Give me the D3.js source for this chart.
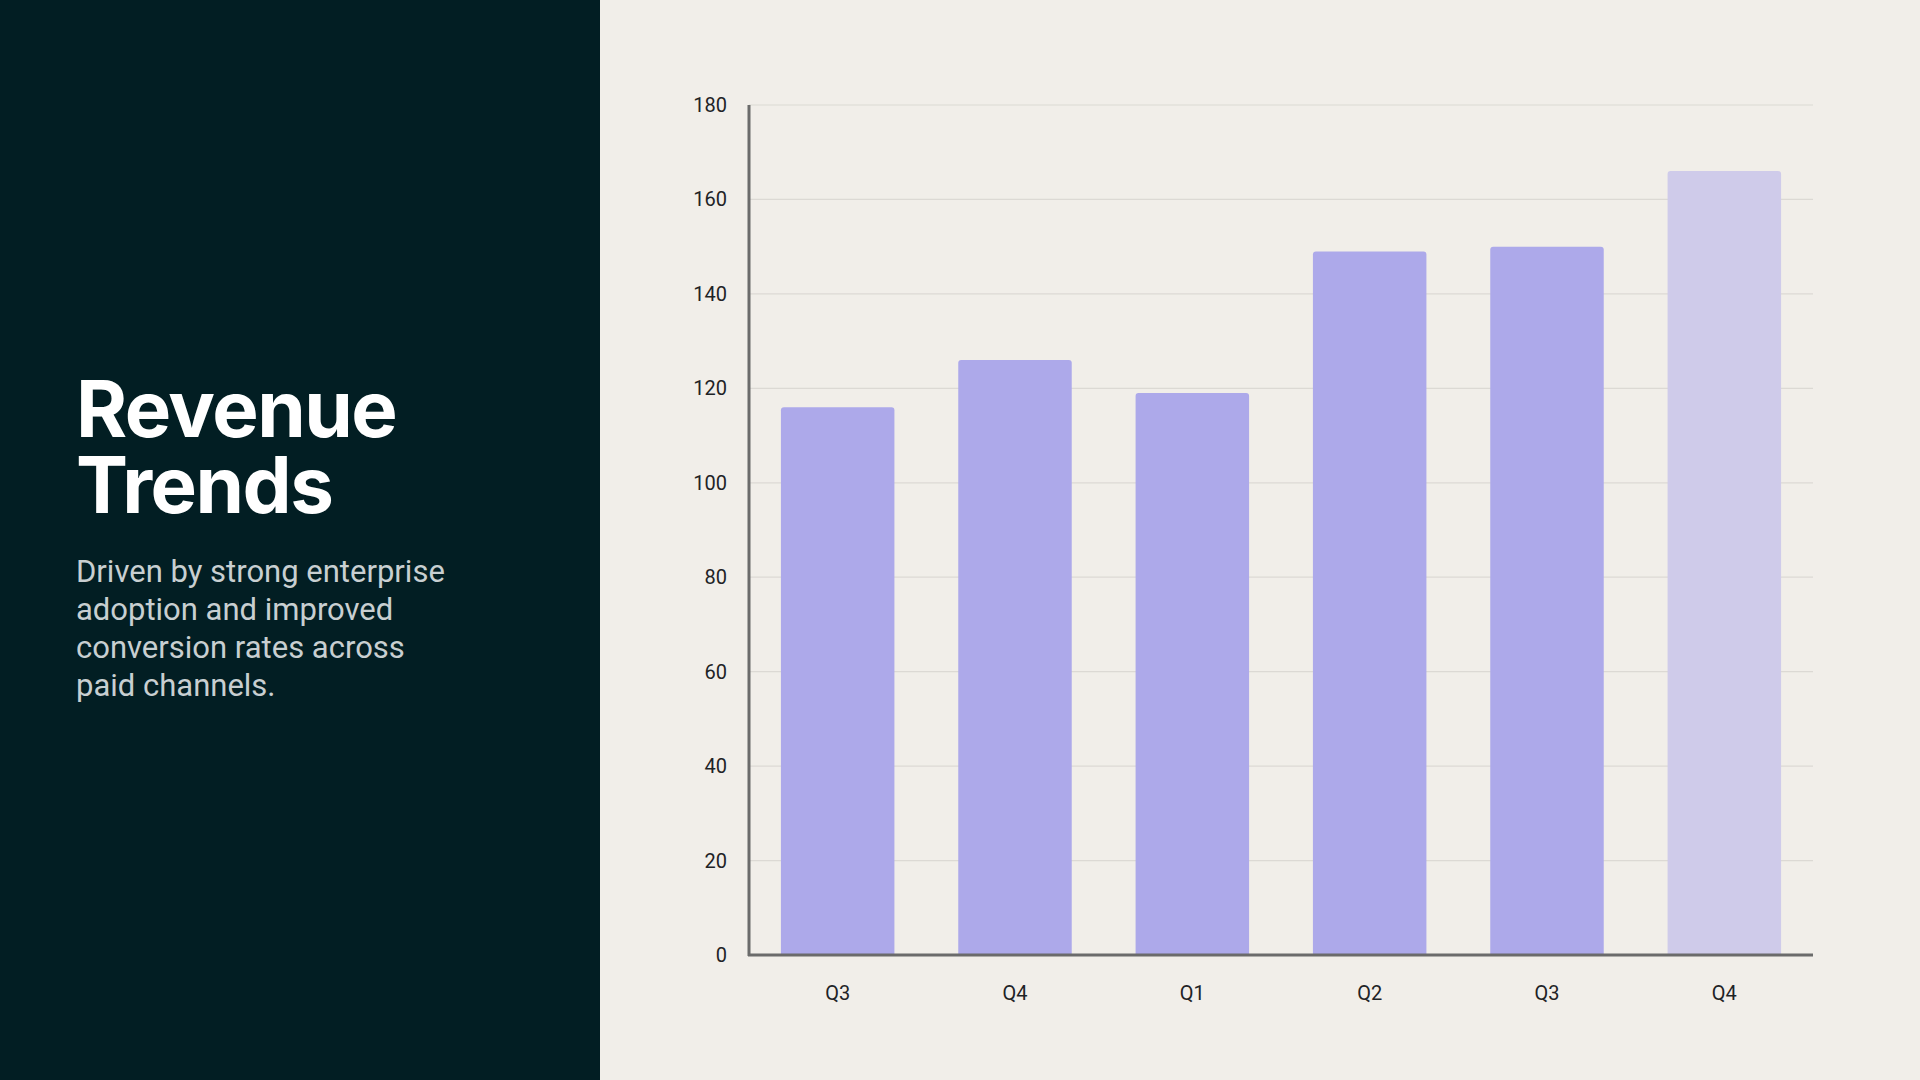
<!DOCTYPE html>
<html>
<head>
<meta charset="utf-8">
<script src="https://cdn.jsdelivr.net/npm/d3@7"></script>
<style>
  body { margin: 0; background: #f1eee9; }
  svg { display: block; }
</style>
</head>
<body>
<svg id="chart"></svg>
<script>
let quarters = ["Q3", "Q4", "Q1", "Q2", "Q3", "Q4"];
let revenue = [116, 126, 119, 149, 150, 166];
let isForecast = [false, false, false, false, false, true];
let yTicks = [0, 20, 40, 60, 80, 100, 120, 140, 160, 180];
let titleLines = ["Revenue", "Trends"];
let subtitleLines = ["Driven by strong enterprise", "adoption and improved", "conversion rates across", "paid channels."];

let width = 1920, height = 1080;
let svg = d3.select("#chart").attr("width", width).attr("height", height);

// side panel
svg.append("rect").attr("width", 600).attr("height", height).attr("fill", "#021e23");
svg.append("rect").attr("x", 600).attr("width", width - 600).attr("height", height).attr("fill", "#f1eee9");

svg.selectAll(".title").data(titleLines).enter().append("text")
  .attr("x", 76).attr("y", (d, i) => 437 + i * 76)
  .attr("font-family", "Inter, sans-serif").attr("font-weight", 700)
  .attr("font-size", 78).attr("letter-spacing", -1.5).attr("fill", "#ffffff")
  .text(d => d);

svg.selectAll(".sub").data(subtitleLines).enter().append("text")
  .attr("x", 76).attr("y", (d, i) => 582 + i * 38)
  .attr("font-family", "Roboto, sans-serif").attr("font-size", 31)
  .attr("fill", "#c8cfd1")
  .text(d => d);

// chart
let plotLeft = 749, plotRight = 1813, plotTop = 105, plotBottom = 955;
let x = d3.scaleBand().domain(d3.range(quarters.length)).range([plotLeft, plotRight]).paddingInner(0.36).paddingOuter(0.18);
let y = d3.scaleLinear().domain([0, 180]).range([plotBottom, plotTop]);

svg.append("g").selectAll("line").data(yTicks.slice(1)).enter().append("line")
  .attr("x1", plotLeft).attr("x2", plotRight)
  .attr("y1", d => y(d)).attr("y2", d => y(d))
  .attr("stroke", "#dcd9d4").attr("stroke-width", 1.2);

svg.append("g").selectAll("path").data(revenue).enter().append("path")
  .attr("d", (d, i) => {
    let x0 = x(i), w = x.bandwidth(), y0 = y(d), r = 3;
    return `M${x0},${plotBottom}V${y0 + r}Q${x0},${y0} ${x0 + r},${y0}H${x0 + w - r}Q${x0 + w},${y0} ${x0 + w},${y0 + r}V${plotBottom}Z`;
  })
  .attr("fill", (d, i) => isForecast[i] ? "#cfcbea" : "#ada9ea");

svg.append("g").selectAll("text").data(yTicks).enter().append("text")
  .attr("x", plotLeft - 22).attr("y", d => y(d)).attr("dy", "0.35em")
  .attr("text-anchor", "end").attr("font-family", "Roboto, sans-serif")
  .attr("font-size", 20).attr("fill", "#1e2326").text(d => d);

svg.append("g").selectAll("text").data(quarters).enter().append("text")
  .attr("x", (d, i) => x(i) + x.bandwidth() / 2).attr("y", 1000)
  .attr("text-anchor", "middle").attr("font-family", "Roboto, sans-serif")
  .attr("font-size", 20).attr("fill", "#1e2326").text(d => d);

svg.append("line").attr("x1", plotLeft).attr("x2", plotLeft).attr("y1", plotTop).attr("y2", plotBottom + 1)
  .attr("stroke", "#6b6b6b").attr("stroke-width", 3);
svg.append("line").attr("x1", plotLeft - 1).attr("x2", plotRight).attr("y1", plotBottom).attr("y2", plotBottom)
  .attr("stroke", "#6b6b6b").attr("stroke-width", 3);
</script>
</body>
</html>
